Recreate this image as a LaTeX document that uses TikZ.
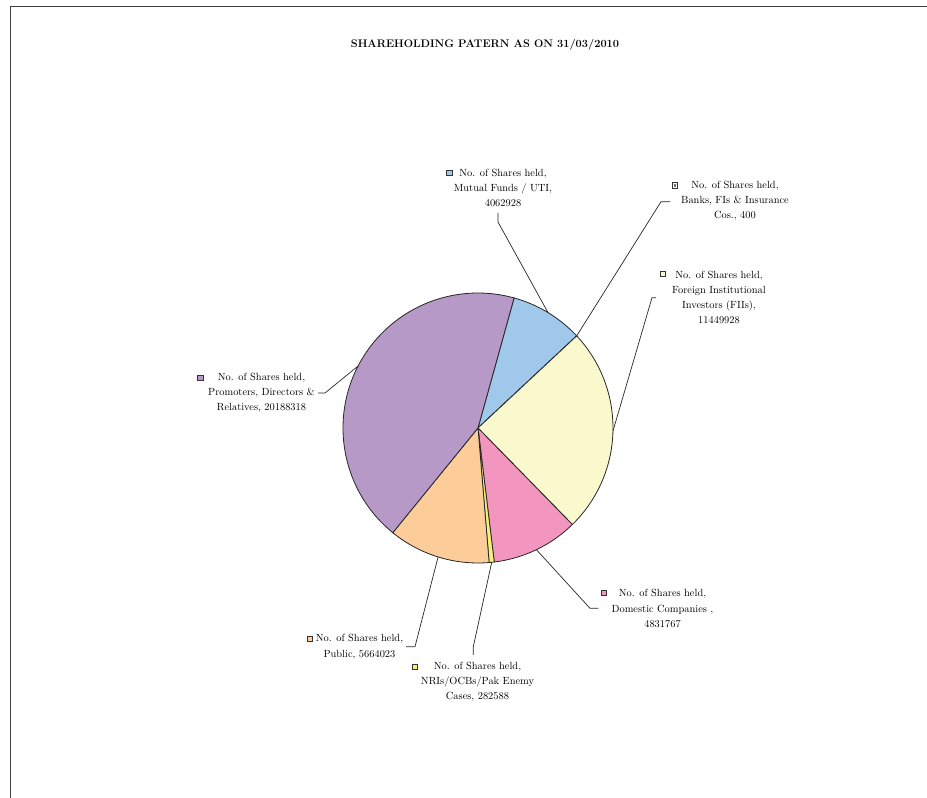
\documentclass[tikz,border=0pt]{standalone}
\usetikzlibrary{arrows}
\definecolor{promo}{RGB}{183,153,199}
\definecolor{mfund}{RGB}{160,200,235}
\definecolor{banks}{RGB}{250,250,250}
\definecolor{fii}{RGB}{250,248,205}
\definecolor{domco}{RGB}{242,150,192}
\definecolor{nri}{RGB}{245,240,120}
\definecolor{public}{RGB}{252,204,153}
\tikzset{
  slice/.style={draw=black!85, line width=0.8pt},
  leader/.style={draw=black!85, line width=0.7pt},
  lbl/.style={align=center, inner sep=0pt, font=\fontsize{10.4}{15.3}\selectfont},
  legkey/.style={draw=black!80, line width=0.6pt, minimum size=5.5pt, inner sep=0pt},
}
\begin{document}
\begin{tikzpicture}[x=1pt,y=1pt]
  \useasboundingbox (0,0) rectangle (927,798);
  \draw[black!75, line width=1.4pt] (10.5,0) -- (10.5,791.5) -- (927,791.5);
  \node (title) at (485,753) {\fontsize{11}{13}\selectfont\bfseries SHAREHOLDING PATERN AS ON 31/03/2010};
  \def\R{135}   % pie radius
  \coordinate (c) at (478,370);
  % slices, clockwise from the top
  \foreach \a/\b/\col in {74.5/43.031/mfund, 43.031/43.028/banks, 43.028/-45.655/fii,
      -45.655/-83.078/domco, -83.078/-85.267/nri, -85.267/-129.137/public, -129.137/-285.5/promo}
    { \filldraw[slice, fill=\col] (c) -- +(\a:\R) arc[start angle=\a, end angle=\b, radius=\R] -- cycle; }
  % labels
  \node[lbl] (mf-lab)  at (503,610)   {No. of Shares held,\\ Mutual Funds / UTI,\\ 4062928};
  \node[lbl] (bk-lab)  at (735,597)   {No. of Shares held,\\ Banks, FIs \& Insurance\\ Cos., 400};
  \node[lbl] (fii-lab) at (719,500.5) {No. of Shares held,\\ Foreign Institutional\\ Investors (FIIs),\\ 11449928};
  \node[lbl] (pro-lab) at (261.5,405) {No. of Shares held,\\ Promoters, Directors \&\\ Relatives, 20188318};
  \node[lbl] (dom-lab) at (662.5,189.5) {No. of Shares held,\\ Domestic Companies ,\\ 4831767};
  \node[lbl] (pub-lab) at (359.5,151.2) {No. of Shares held,\\ Public, 5664023};
  \node[lbl] (nri-lab) at (477.5,116.3) {No. of Shares held,\\ NRIs/OCBs/Pak Enemy\\ Cases, 282588};
  % legend keys
  \foreach \n/\x/\y/\col in {mf/449.3/625/mfund, bk/675/612.5/banks, fii/662.7/524/fii, pro/200.5/420/promo,
      dom/604/205/domco, pub/310/159/public, nri/415/131.3/nri}
    { \node[legkey, fill=\col] (\n-key) at (\x,\y) {}; }
  \fill[black!55] (bk-key.center) +(-1.3,-1.3) rectangle +(1.3,1.3);
  % leader lines
  \foreach \n/\ang/\bx/\by/\ex/\ey in {mf/58.77/498/576/498/585, bk/43.03/661/596.3/670/596.3,
      fii/-1.31/652/500.3/656/500.3, dom/-64.37/590/189.7/598.3/189.7, nri/-84.17/473.3/151.3/473.3/143,
      pub/-107.2/415/151.3/406/151.3, pro/-207.3/325/405/318/405}
    { \path (c) ++(\ang:\R) coordinate (\n-edge);
      \coordinate (\n-bend) at (\bx,\by);
      \coordinate (\n-end) at (\ex,\ey);
      \draw[leader] (\n-edge) -- (\n-bend) -- (\n-end); }
\end{tikzpicture}
\end{document}
